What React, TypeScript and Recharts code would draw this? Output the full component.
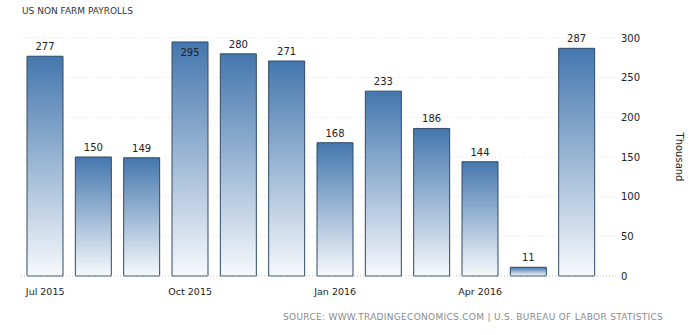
import { BarChart, Bar, XAxis, YAxis, CartesianGrid, LabelList } from "recharts";

const months = [
  "Jul 2015", "Aug 2015", "Sep 2015", "Oct 2015", "Nov 2015", "Dec 2015",
  "Jan 2016", "Feb 2016", "Mar 2016", "Apr 2016", "May 2016", "Jun 2016",
];
const payrolls = [277, 150, 149, 295, 280, 271, 168, 233, 186, 144, 11, 287];
const shownMonths = ["Jul 2015", "Oct 2015", "Jan 2016", "Apr 2016"];
const yTicks = [0, 50, 100, 150, 200, 250, 300];

const data = months.map((m, i) => ({ month: m, value: payrolls[i] }));

const FONT = "'DejaVu Sans', Verdana, sans-serif";

function ValueLabel(props: any) {
  const { x, y, width, value } = props;
  const inside = y < 48;
  return (
    <text
      x={x + width / 2}
      y={inside ? y + 14 : y - 6}
      textAnchor="middle"
      fontSize={10}
      fontFamily={FONT}
      fill="#222"
    >
      {value}
    </text>
  );
}

export default function App() {
  return (
    <div style={{ position: "absolute", left: 0, top: 0, width: 692, height: 335, background: "#fff" }}>
      <div
        style={{
          position: "absolute",
          left: 22,
          top: 6,
          fontFamily: FONT,
          fontSize: 9,
          color: "#333",
        }}
      >
        US NON FARM PAYROLLS
      </div>
      <BarChart
        width={692}
        height={335}
        data={data}
        margin={{ top: 38, right: 0, bottom: 29, left: 21 }}
        barCategoryGap={6}
      >
        <defs>
          <linearGradient id="barFill" x1="0" y1="0" x2="0" y2="1">
            <stop offset="0%" stopColor="#4477ae" />
            <stop offset="100%" stopColor="#f7f9fc" />
          </linearGradient>
        </defs>
        <CartesianGrid
          vertical={false}
          stroke="#e2e2e2"
          strokeDasharray="1 2"
        />
        <XAxis
          dataKey="month"
          height={30}
          padding={{ left: 0, right: 16 }}
          axisLine={{ stroke: "#cfcfcf", strokeDasharray: "1 2" }}
          tickLine={false}
          interval={0}
          tickFormatter={(m: string) => (shownMonths.includes(m) ? m : "")}
          tick={{ fontSize: 9.5, fontFamily: FONT, fill: "#222" }}
          tickMargin={6}
        />
        <YAxis
          orientation="right"
          width={75}
          domain={[0, 300]}
          ticks={yTicks}
          axisLine={false}
          tickLine={false}
          tickSize={0}
          tickMargin={4}
          tick={{ fontSize: 10, fontFamily: FONT, fill: "#222", textAnchor: "start" }}
          label={{
            value: "Thousand",
            angle: 90,
            position: "insideRight",
            offset: 12,
            style: { fontSize: 10, fontFamily: FONT, fill: "#222", textAnchor: "middle" },
          }}
        />
        <Bar
          dataKey="value"
          fill="url(#barFill)"
          stroke="#2f4a68"
          strokeWidth={1}
          isAnimationActive={false}
        >
          <LabelList dataKey="value" content={ValueLabel} />
        </Bar>
      </BarChart>
      <div
        style={{
          position: "absolute",
          left: 283,
          top: 312,
          fontFamily: FONT,
          fontSize: 9,
          letterSpacing: 0.3,
          color: "#8a8a8a",
          whiteSpace: "nowrap",
        }}
      >
        SOURCE: WWW.TRADINGECONOMICS.COM | U.S. BUREAU OF LABOR STATISTICS
      </div>
    </div>
  );
}
